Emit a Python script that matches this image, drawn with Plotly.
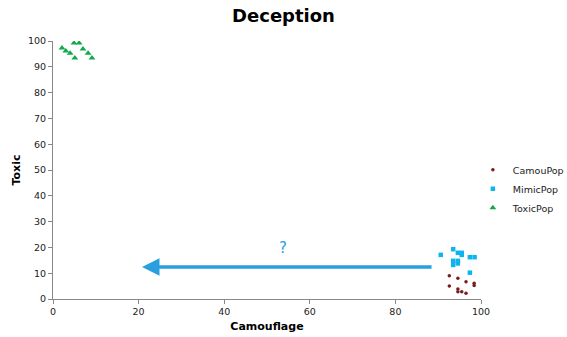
import plotly.graph_objects as go

camou_x = [92.6, 94.6, 96.5, 98.4, 98.4, 92.6, 94.6, 94.6, 95.5, 96.5]
camou_y = [9.0, 8.0, 6.7, 6.1, 5.2, 5.0, 3.9, 2.8, 2.8, 2.2]

mimic_x = [90.6, 93.5, 94.6, 95.5, 95.5, 94.6, 94.6, 93.5, 93.5, 97.4, 98.5, 97.4]
mimic_y = [17.1, 19.3, 17.9, 17.9, 17.1, 14.8, 13.8, 14.8, 13.2, 16.2, 16.2, 10.2]

toxic_x = [2.1, 3.0, 4.0, 4.9, 6.1, 7.0, 8.2, 9.1, 5.1]
toxic_y = [97.3, 96.1, 95.3, 99.2, 99.2, 96.9, 95.3, 93.4, 93.4]

arrow_start = (88.8, 12.4)
arrow_end = (20.8, 12.4)
question_pos = (53.7, 19.8)

font = "DejaVu Sans"

fig = go.Figure()
fig.add_trace(go.Scatter(x=camou_x, y=camou_y, mode="markers", name="CamouPop",
                         marker=dict(symbol="circle", size=3.5, color="#7b1c1c")))
fig.add_trace(go.Scatter(x=mimic_x, y=mimic_y, mode="markers", name="MimicPop",
                         marker=dict(symbol="square", size=4.5, color="#0fb4ef")))
fig.add_trace(go.Scatter(x=toxic_x, y=toxic_y, mode="markers", name="ToxicPop",
                         marker=dict(symbol="triangle-up", size=6, color="#11a94c")))

fig.add_annotation(x=arrow_end[0], y=arrow_end[1], ax=arrow_start[0], ay=arrow_start[1],
                   xref="x", yref="y", axref="x", ayref="y", text="",
                   showarrow=True, arrowhead=2, arrowsize=1, arrowwidth=3.5,
                   arrowcolor="#2a9fe0")
fig.add_annotation(x=question_pos[0], y=question_pos[1], xref="x", yref="y",
                   text="?", showarrow=False,
                   font=dict(family=font, size=15, color="#2a9fe0"))

axis_common = dict(showgrid=False, zeroline=False, showline=True, linecolor="#888888",
                   linewidth=1, ticks="outside", ticklen=4, tickcolor="#888888",
                   automargin=False,
                   tickfont=dict(family=font, size=9.5, color="#222222"))

fig.update_layout(
    width=567, height=337,
    margin=dict(l=53, r=86, t=41, b=38, autoexpand=False),
    paper_bgcolor="white", plot_bgcolor="white",
    title=dict(text="<b>Deception</b>", x=0.5, xanchor="center", y=0.972, yanchor="top",
               font=dict(family=font, size=18, color="black")),
    xaxis=dict(range=[0, 100], dtick=20, **axis_common,
               title=dict(text="<b>Camouflage</b>", font=dict(family=font, size=11, color="black"),
                          standoff=5)),
    yaxis=dict(range=[0, 100], dtick=10, **axis_common,
               title=dict(text="<b>Toxic</b>", font=dict(family=font, size=11, color="black"),
                          standoff=5)),
    legend=dict(x=0.981, y=0.427, xanchor="left", yanchor="middle",
                font=dict(family=font, size=9.5, color="#222222"),
                itemwidth=30, tracegroupgap=0, bgcolor="rgba(0,0,0,0)"),
    showlegend=True,
)

fig.write_html("out.html", config={"displayModeBar": False},
               post_script="document.body.style.margin='0';document.body.style.overflow='hidden';")
